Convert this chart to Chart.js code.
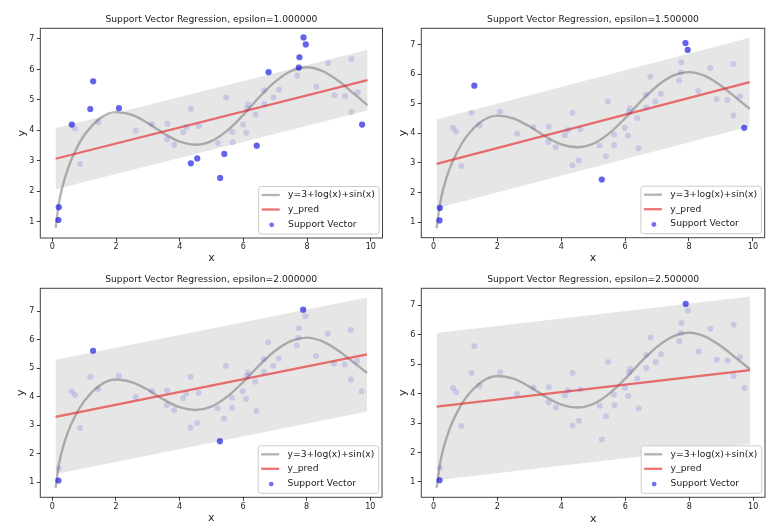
<!DOCTYPE html>
<html>
<head>
<meta charset="utf-8">
<script src="https://cdn.jsdelivr.net/npm/chart.js@4/dist/chart.umd.min.js"></script>
<style>
html, body { margin: 0; padding: 0; background: #ffffff; }
#wrap { position: relative; width: 783px; height: 530px; overflow: hidden; background: #ffffff; }
canvas { position: absolute; }
</style>
</head>
<body>
<div id="wrap">
<canvas id="c0"></canvas>
<canvas id="c1"></canvas>
<canvas id="c2"></canvas>
<canvas id="c3"></canvas>
</div>
<script>
// ---------------- data ----------------
const epsilons = [1.0, 1.5, 2.0, 2.5];

// all training samples (same in each panel)
const sampleX = [0.19, 0.20, 0.61, 0.71, 0.87, 1.19, 1.28, 1.44, 2.09, 2.62,
                 3.13, 3.60, 3.61, 3.83, 4.11, 4.21, 4.35, 4.35, 4.55, 4.60,
                 5.20, 5.27, 5.40, 5.46, 5.65, 5.66, 5.99, 6.09, 6.12, 6.15,
                 6.38, 6.42, 6.65, 6.66, 6.79, 6.95, 7.12, 7.69, 7.74, 7.76,
                 7.89, 7.96, 8.29, 8.66, 8.86, 9.20, 9.39, 9.39, 9.59, 9.73];
const sampleY = [1.06, 1.48, 4.19, 4.06, 2.90, 4.70, 5.61, 4.27, 4.73, 3.99,
                 4.21, 3.71, 4.22, 3.53, 3.94, 4.11, 4.70, 2.92, 3.08, 4.14,
                 3.59, 2.44, 3.23, 5.08, 3.96, 3.61, 4.19, 3.92, 4.72, 4.85,
                 4.52, 3.50, 5.31, 4.87, 5.91, 5.08, 5.34, 5.79, 6.06, 6.40,
                 7.05, 6.82, 5.43, 6.21, 5.15, 5.13, 6.34, 4.60, 5.25, 4.19];

// indices of the samples that are support vectors, per epsilon
const svEps1   = [0, 1, 2, 5, 6, 8, 17, 18, 21, 22, 31, 34, 38, 39, 40, 41, 49];
const svEps15  = [0, 1, 6, 21, 40, 41, 49];
const svEps2   = [0, 6, 21, 40];
const svEps25  = [0, 40];

// true curve y=3+log(x)+sin(x)
const curveX = [0.1, 0.2, 0.3, 0.5, 0.75, 1.0, 1.5, 2.0, 2.5, 3.0, 3.5, 4.0,
                4.5, 5.0, 5.5, 6.0, 6.5, 7.0, 7.5, 8.0, 8.5, 9.0, 9.5, 9.9];
const curveY = [0.80, 1.59, 2.09, 2.79, 3.39, 3.84, 4.40, 4.60, 4.51, 4.24, 3.90, 3.63,
                3.53, 3.65, 4.00, 4.51, 5.09, 5.60, 5.95, 6.07, 5.94, 5.61, 5.18, 4.83];

// fitted line y_pred (ends of the red line) per epsilon
const predX = [0.1, 9.9];
const predStart = [3.07, 2.97, 3.29, 3.56];
const predEnd   = [5.65, 5.73, 5.48, 4.80];

// axis ticks
const xTickValues = [0, 2, 4, 6, 8, 10];
const yTickValues = [1, 2, 3, 4, 5, 6, 7];
const xRange = [-0.38, 10.37];
const yMinByPanel = [0.47, 0.475, 0.47, 0.48];
const yMaxByPanel = [7.35, 7.55, 7.80, 7.58];

const svByPanel = [svEps1, svEps15, svEps2, svEps25];

// ---------------- styling / layout ----------------
const FONT = "'DejaVu Sans', 'Liberation Sans', sans-serif";
const TXT = '#222222';
const BAND = 'rgba(128,128,128,0.2)';
const CURVE = 'rgba(120,120,120,0.55)';
const RED = 'rgba(230,40,40,0.65)';
const LIGHT = 'rgba(60,60,210,0.18)';
const DARK = 'rgba(10,10,230,0.58)';

const panels = [
  { left: 0,   top: 0,   w: 391, h: 265, area: { l: 40.3,  t: 28.3,  r: 382.5, b: 238.0 }, xPad: 0.4, yPad: 15.4 },
  { left: 391, top: 0,   w: 392, h: 265, area: { l: 421.3, t: 28.3,  r: 764.7, b: 237.7 }, xPad: 0.4, yPad: 5.4 },
  { left: 0,   top: 265, w: 391, h: 265, area: { l: 40.3,  t: 288.3, r: 382.0, b: 497.3 }, xPad: 5.4, yPad: 14.4 },
  { left: 391, top: 265, w: 392, h: 265, area: { l: 421.3, t: 288.3, r: 765.0, b: 497.3 }, xPad: 4.7, yPad: 5.4 }
];

const framePlugin = {
  id: 'frame',
  afterDatasetsDraw(chart) {
    const a = chart.chartArea, ctx = chart.ctx;
    ctx.save();
    ctx.strokeStyle = 'rgba(0,0,0,0.75)';
    ctx.lineWidth = 1;
    ctx.strokeRect(a.left, a.top, a.right - a.left, a.bottom - a.top);
    ctx.restore();
  }
};

const legendPlugin = {
  id: 'mplLegend',
  afterDraw(chart) {
    const a = chart.chartArea, ctx = chart.ctx;
    const W = 120.5, H = 47.5;
    const x0 = a.right - 3.3 - W, y0 = a.bottom - 4 - H;
    ctx.save();
    ctx.beginPath();
    if (ctx.roundRect) ctx.roundRect(x0, y0, W, H, 2.5); else ctx.rect(x0, y0, W, H);
    ctx.fillStyle = 'rgba(255,255,255,0.85)';
    ctx.fill();
    ctx.strokeStyle = '#cccccc';
    ctx.lineWidth = 1;
    ctx.stroke();
    const items = chart.data.datasets.filter(d => d.inLegend);
    const rows = [8.5, 23.0, 37.8];
    ctx.font = '9.2px ' + FONT;
    ctx.textBaseline = 'middle';
    ctx.textAlign = 'left';
    items.forEach((d, k) => {
      const cy = y0 + rows[k];
      if (d.legendKind === 'line') {
        ctx.beginPath();
        ctx.moveTo(x0 + 3, cy);
        ctx.lineTo(x0 + 21, cy);
        ctx.strokeStyle = d.borderColor;
        ctx.lineWidth = d.borderWidth;
        ctx.stroke();
      } else {
        ctx.beginPath();
        ctx.arc(x0 + 13, cy + 0.5, 2.4, 0, Math.PI * 2);
        ctx.fillStyle = d.backgroundColor;
        ctx.fill();
      }
      ctx.fillStyle = TXT;
      ctx.fillText(d.label, x0 + 29.4, cy);
    });
    ctx.restore();
  }
};

function makeChart(i) {
  const p = panels[i];
  const cv = document.getElementById('c' + i);
  cv.width = p.w; cv.height = p.h;
  cv.style.left = p.left + 'px'; cv.style.top = p.top + 'px';
  cv.style.width = p.w + 'px'; cv.style.height = p.h + 'px';

  const eps = epsilons[i];
  const pts = sampleX.map((x, k) => ({ x: x, y: sampleY[k] }));
  const sv = svByPanel[i].map(k => ({ x: sampleX[k], y: sampleY[k] }));
  const pred = [{ x: predX[0], y: predStart[i] }, { x: predX[1], y: predEnd[i] }];
  const upper = pred.map(q => ({ x: q.x, y: q.y + eps }));
  const lower = pred.map(q => ({ x: q.x, y: q.y - eps }));
  const curve = curveX.map((x, k) => ({ x: x, y: curveY[k] }));

  const titleLH = 9.2 * 1.2;
  const titleTop = (p.area.t - p.top) - 3 - titleLH;

  new Chart(cv, {
    type: 'scatter',
    data: {
      datasets: [
        { type: 'line', label: 'tube upper', data: upper, borderColor: 'rgba(0,0,0,0)', borderWidth: 1,
          backgroundColor: BAND, fill: '+1', pointRadius: 0, order: 10 },
        { type: 'line', label: 'tube lower', data: lower, borderColor: 'rgba(0,0,0,0)', borderWidth: 1,
          backgroundColor: 'rgba(0,0,0,0)', fill: false, pointRadius: 0, order: 9 },
        { type: 'line', label: 'y=3+log(x)+sin(x)', data: curve, borderColor: CURVE, borderWidth: 2.4,
          pointRadius: 0, fill: false, cubicInterpolationMode: 'monotone', order: 5,
          inLegend: true, legendKind: 'line' },
        { type: 'line', label: 'y_pred', data: pred, borderColor: RED, borderWidth: 2.3,
          pointRadius: 0, fill: false, order: 4, inLegend: true, legendKind: 'line' },
        { type: 'scatter', label: 'samples', data: pts, backgroundColor: LIGHT, borderWidth: 0,
          pointRadius: 3.0, order: 3 },
        { type: 'scatter', label: 'Support Vector', data: sv, backgroundColor: DARK, borderWidth: 0,
          pointRadius: 3.1, order: 1, inLegend: true, legendKind: 'point' }
      ]
    },
    options: {
      responsive: false,
      animation: false,
      devicePixelRatio: 1,
      events: [],
      layout: { padding: { left: 0, top: 0, right: (p.left + p.w) - p.area.r, bottom: 0 } },
      plugins: {
        legend: { display: false },
        tooltip: { enabled: false },
        title: {
          display: true,
          text: 'Support Vector Regression, epsilon=' + eps.toFixed(6),
          fullSize: false,
          color: TXT,
          font: { family: FONT, size: 9.2, weight: 'normal', lineHeight: 1.2 },
          padding: { top: titleTop, bottom: 3 }
        }
      },
      scales: {
        x: {
          type: 'linear', position: 'bottom', min: xRange[0], max: xRange[1],
          afterBuildTicks: s => { s.ticks = xTickValues.map(v => ({ value: v })); },
          afterFit: s => { s.height = (p.top + p.h) - p.area.b; },
          grid: { drawOnChartArea: false, drawTicks: true, tickLength: 3.5, color: 'rgba(0,0,0,0.75)', lineWidth: 1 },
          border: { display: false },
          ticks: { color: TXT, font: { family: FONT, size: 8 }, padding: 1, maxRotation: 0, autoSkip: false,
                   callback: v => String(v) },
          title: { display: true, text: 'x', color: TXT, font: { family: FONT, size: 11, lineHeight: 1.2 },
                   padding: { top: 0, bottom: p.xPad - 0.3 } }
        },
        y: {
          type: 'linear', position: 'left', min: yMinByPanel[i], max: yMaxByPanel[i],
          afterBuildTicks: s => { s.ticks = yTickValues.map(v => ({ value: v })); },
          afterFit: s => { s.width = p.area.l - p.left; },
          grid: { drawOnChartArea: false, drawTicks: true, tickLength: 3.5, color: 'rgba(0,0,0,0.75)', lineWidth: 1 },
          border: { display: false },
          ticks: { color: TXT, font: { family: FONT, size: 8 }, padding: 2.5, autoSkip: false,
                   callback: v => String(v) },
          title: { display: true, text: 'y', color: TXT, font: { family: FONT, size: 11, lineHeight: 1.2 },
                   padding: { top: p.yPad - 0.3, bottom: 0 } }
        }
      }
    },
    plugins: [framePlugin, legendPlugin]
  });
}

for (let i = 0; i < 4; i++) makeChart(i);
</script>
</body>
</html>
